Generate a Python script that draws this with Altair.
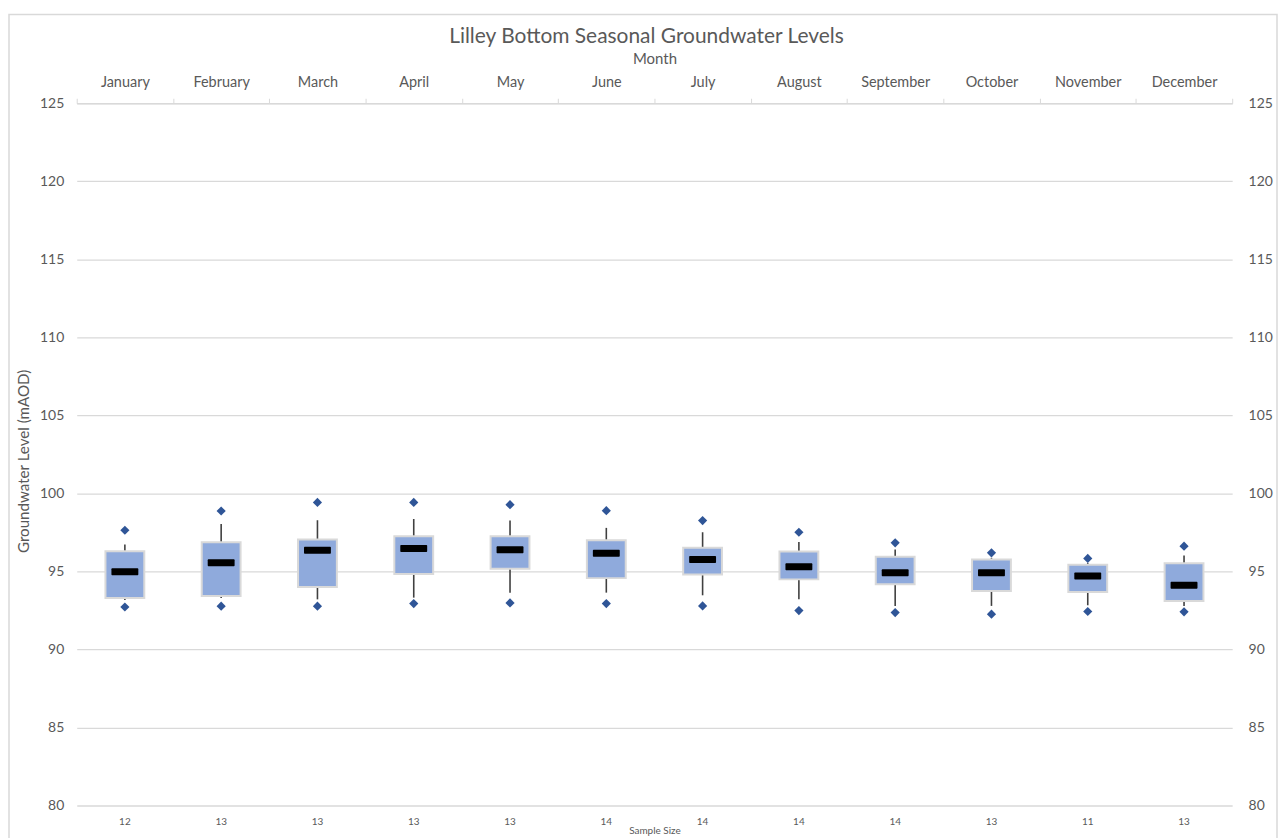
import altair as alt
import pandas as pd

months = ["January", "February", "March", "April", "May", "June", "July",
          "August", "September", "October", "November", "December"]
sample_size = [12, 13, 13, 13, 13, 14, 14, 14, 14, 13, 11, 13]
low_point = [92.72, 92.77, 92.77, 92.94, 92.98, 92.94, 92.79, 92.49, 92.36, 92.26, 92.43, 92.41]
whisker_low = [93.17, 93.30, 93.21, 93.32, 93.64, 93.64, 93.47, 93.21, 92.79, 92.79, 92.83, 92.79]
q1 = [93.30, 93.43, 94.00, 94.83, 95.17, 94.57, 94.81, 94.49, 94.17, 93.75, 93.68, 93.11]
median = [94.98, 95.55, 96.36, 96.47, 96.39, 96.17, 95.77, 95.30, 94.92, 94.92, 94.70, 94.11]
q3 = [96.30, 96.87, 97.04, 97.26, 97.26, 97.00, 96.51, 96.28, 95.94, 95.77, 95.43, 95.53]
whisker_high = [96.72, 98.04, 98.28, 98.36, 98.26, 97.79, 97.51, 96.89, 96.40, 95.87, 95.55, 96.02]
high_point = [97.64, 98.87, 99.42, 99.42, 99.28, 98.89, 98.26, 97.51, 96.83, 96.19, 95.83, 96.62]
y_ticks = [80, 85, 90, 95, 100, 105, 110, 115, 120, 125]

df = pd.DataFrame({
    "month": months, "n": sample_size, "lo": low_point, "wlo": whisker_low,
    "q1": q1, "med": median, "q3": q3, "whi": whisker_high, "hi": high_point,
})
pts = pd.concat([
    pd.DataFrame({"month": months, "v": low_point}),
    pd.DataFrame({"month": months, "v": high_point}),
])

FONT = "Lato"
GREY = "#595959"
LINE = "#d9d9d9"

yscale = alt.Scale(domain=[80, 125], nice=False, zero=False)
xsort = months

label_expr = ("[" + ",".join("'%d'" % v for v in sample_size) + "][indexof(["
              + ",".join("'%s'" % m for m in months) + "], datum.value)]")

base = alt.Chart(df)

border = base.mark_rect(fillOpacity=0, stroke=LINE, strokeWidth=1.5).encode(
    x=alt.value(-68), x2=alt.value(1205), y=alt.value(-89), y2=alt.value(760)
).transform_filter("datum.month == 'January'")

whisk = base.mark_rule(color="#404040", strokeWidth=1.6).encode(
    x=alt.X("month:N", sort=xsort, axis=None),
    y=alt.Y("wlo:Q", scale=yscale, axis=None),
    y2="whi:Q",
)

boxes = base.mark_bar(width=39, color="#8faadc", stroke=LINE, strokeWidth=2).encode(
    x=alt.X("month:N", sort=xsort, scale=alt.Scale(paddingInner=0, paddingOuter=0),
            axis=alt.Axis(orient="top", title="Month", titleFont=FONT, titleFontSize=15,
                          titleColor=GREY, titleFontWeight="normal", titlePadding=8,
                          labelFont=FONT, labelFontSize=14.5, labelColor=GREY, labelAngle=0,
                          labelPadding=9, tickBand="extent", tickSize=5, tickColor=LINE,
                          domainColor=LINE, grid=False)),
    y=alt.Y("q1:Q", scale=yscale,
            axis=alt.Axis(orient="left", values=y_ticks, grid=True, gridColor=LINE,
                          gridWidth=1.3, domain=False, ticks=False, labelFont=FONT,
                          labelFontSize=14, labelColor=GREY, labelPadding=13,
                          title="Groundwater Level (mAOD)", titleFont=FONT,
                          titleFontSize=15.2, titleColor=GREY, titleFontWeight="normal",
                          titleX=-53, titleY=359, titleAngle=270,
                          titleAlign="center", titleBaseline="middle")),
    y2="q3:Q",
)

meds = base.mark_tick(color="black", thickness=7, size=27, cornerRadius=1, opacity=1).encode(
    x=alt.X("month:N", sort=xsort,
            axis=alt.Axis(orient="bottom", labelExpr=label_expr, domain=False, ticks=False,
                          grid=False, labelFont=FONT, labelFontSize=10, labelColor=GREY,
                          labelPadding=11, labelAngle=0, title="Sample Size", titleFont=FONT,
                          titleFontSize=10, titleColor=GREY, titleFontWeight="normal",
                          titlePadding=-1)),
    y=alt.Y("med:Q", scale=yscale,
            axis=alt.Axis(orient="right", values=y_ticks, grid=False, domain=False,
                          ticks=False, labelFont=FONT, labelFontSize=14, labelColor=GREY,
                          labelPadding=16, title=None)),
)

diamonds = alt.Chart(pts).mark_point(shape="diamond", filled=True, size=85,
                                     color="#2f5597", opacity=1).encode(
    x=alt.X("month:N", sort=xsort, axis=None),
    y=alt.Y("v:Q", scale=yscale, axis=None),
)

chart = alt.layer(border, whisk, boxes, meds, diamonds).resolve_axis(
    x="independent", y="independent"
).properties(
    width=1160, height=705,
    title=alt.TitleParams("Lilley Bottom Seasonal Groundwater Levels", font=FONT,
                          fontSize=21, color=GREY, fontWeight="normal",
                          anchor="middle", dx=-8, offset=-33),
    autosize=alt.AutoSizeParams(type="none"),
    padding={"left": 69, "top": 94, "right": 47, "bottom": 31},
).configure_view(stroke=None)

chart.save("out.html", embed_options={"renderer": "svg", "actions": False})
